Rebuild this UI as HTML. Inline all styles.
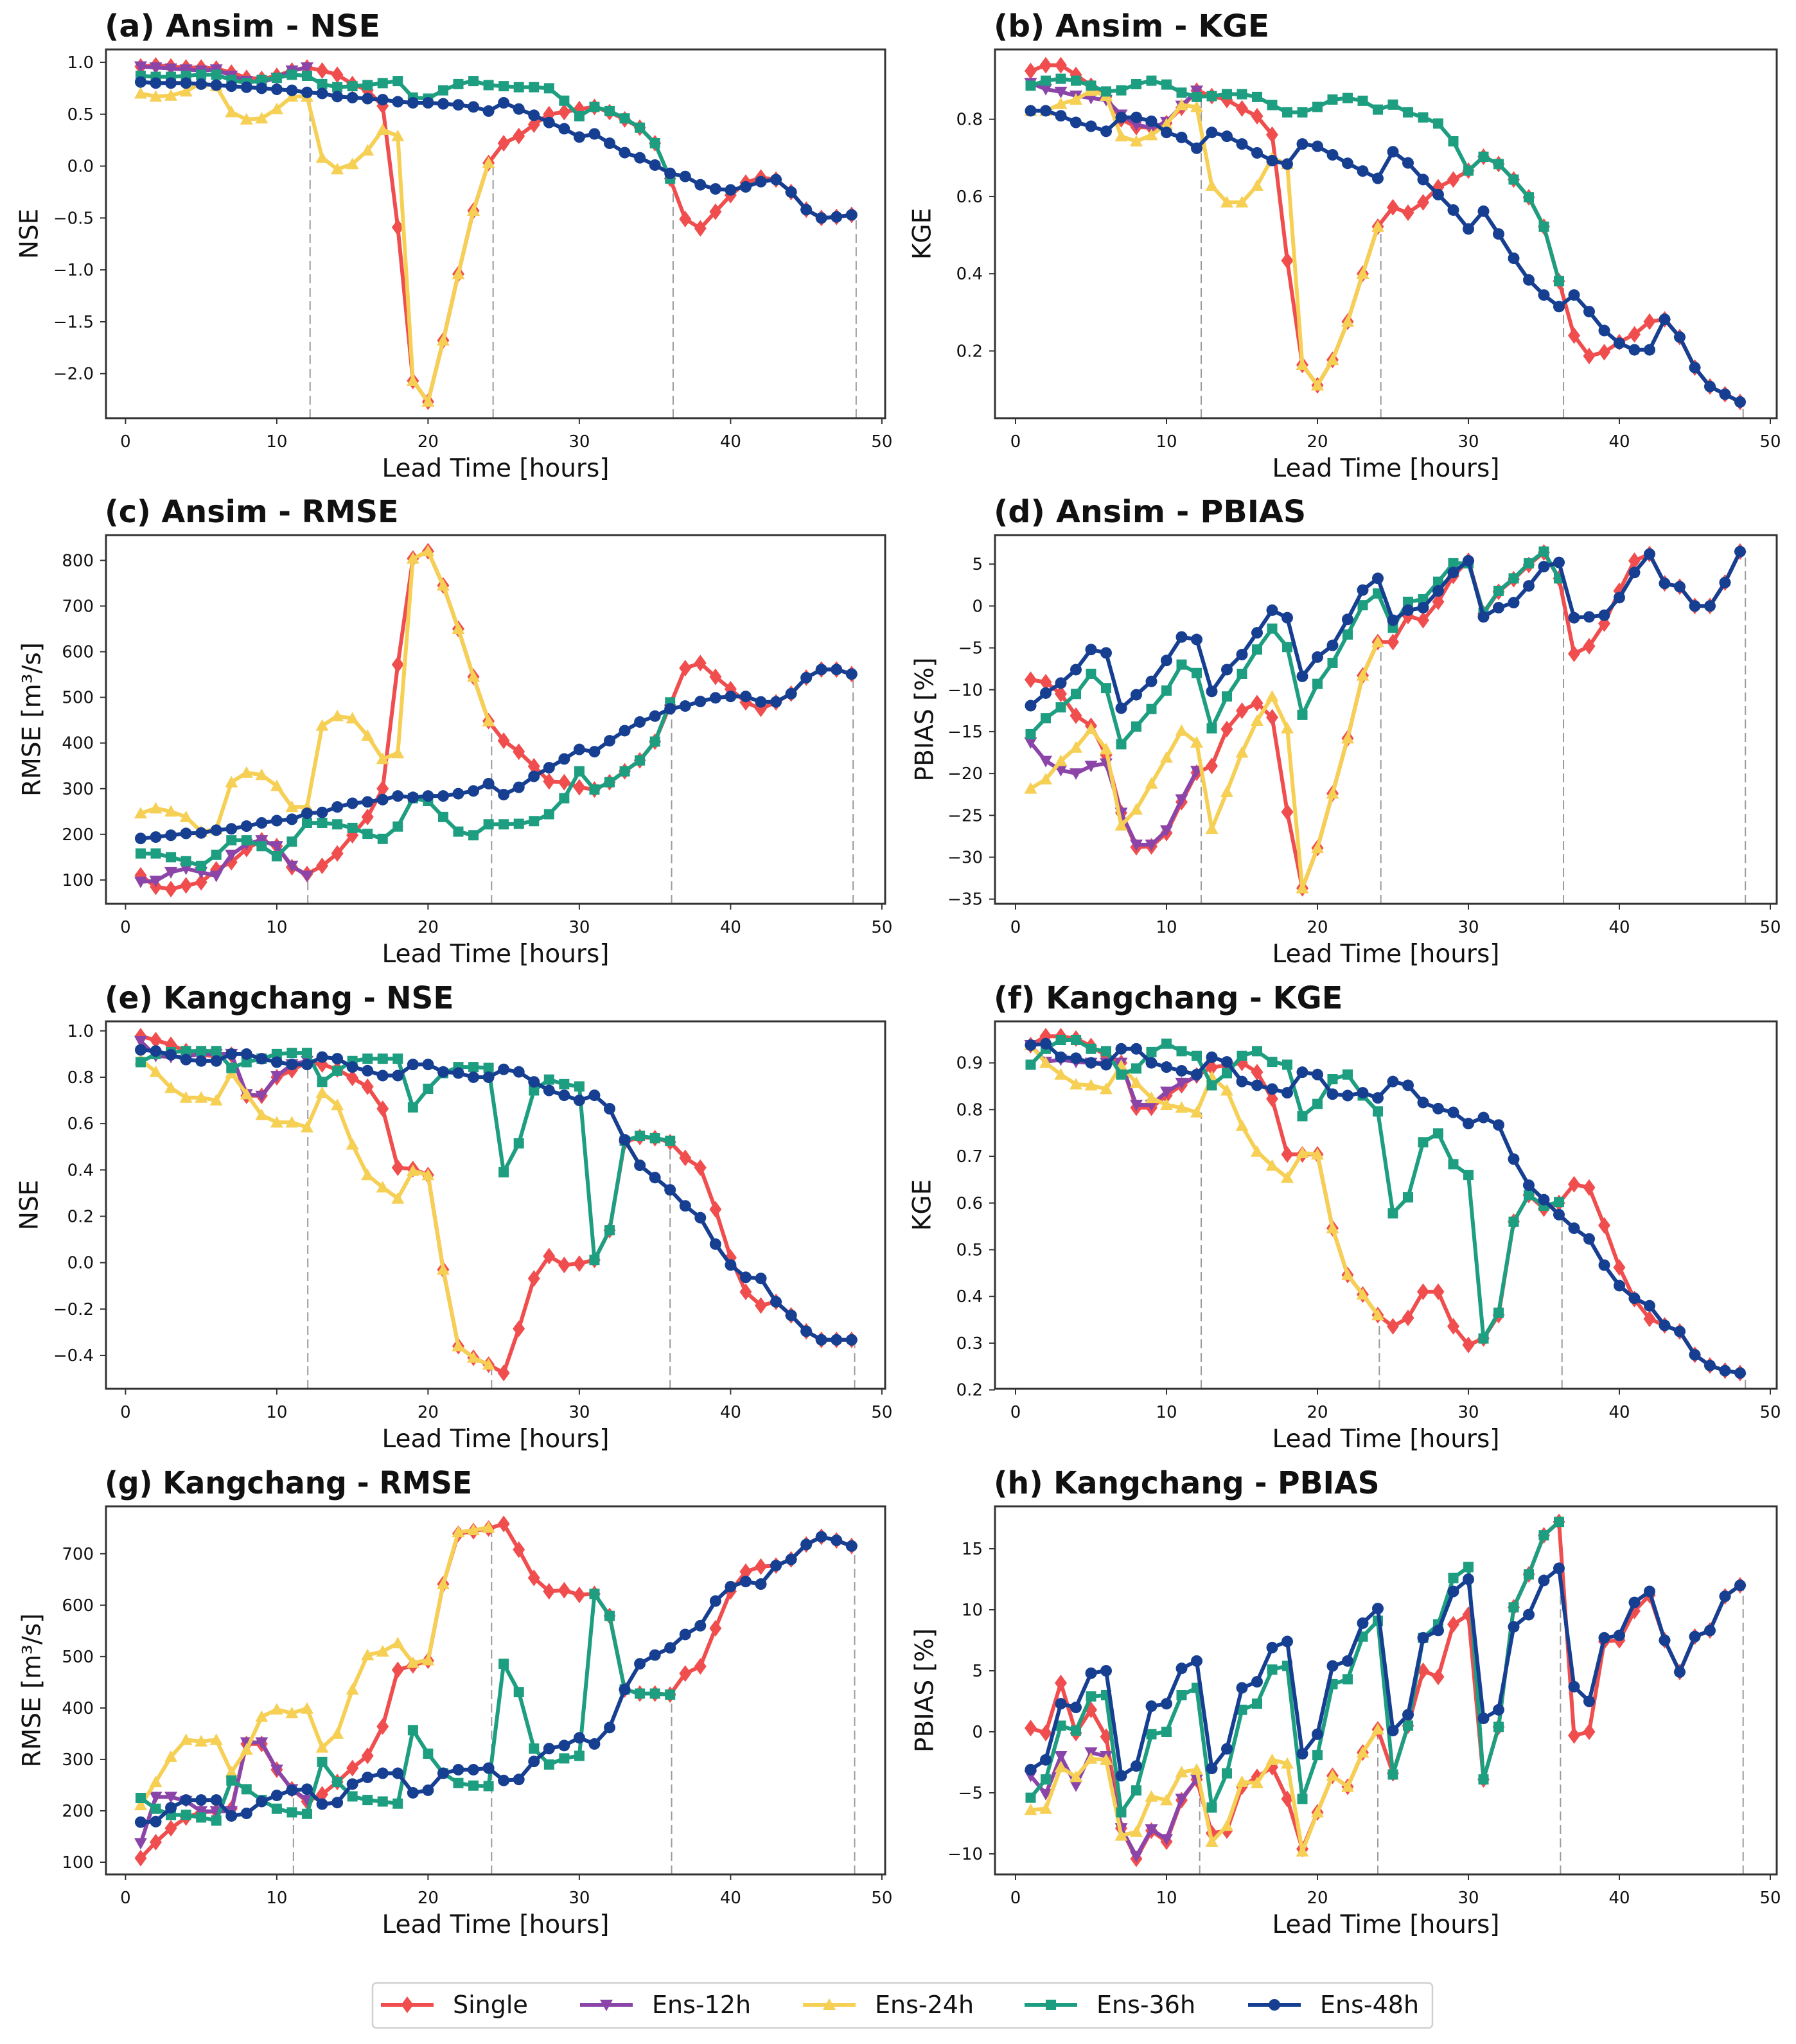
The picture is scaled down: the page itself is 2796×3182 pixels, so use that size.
<!DOCTYPE html>
<html><head><meta charset="utf-8"><style>
html,body{margin:0;padding:0;background:#fff;}
svg{display:block;}
text{font-family:"DejaVu Sans","Liberation Sans",sans-serif;fill:#111;}
</style></head><body>
<svg id="fig" xmlns="http://www.w3.org/2000/svg" width="2796" height="3182" viewBox="0 0 2796 3182">
<rect x="0" y="0" width="2796" height="3182" fill="#fff"/>
</svg>
<script>
const hours = [1,2,3,4,5,6,7,8,9,10,11,12,13,14,15,16,17,18,19,20,21,22,23,24,25,26,27,28,29,30,31,32,33,34,35,36,37,38,39,40,41,42,43,44,45,46,47,48];
const xTicks = [0,10,20,30,40,50];
const xTickLabels = ["0","10","20","30","40","50"];

const a_single = [0.96,0.97,0.96,0.95,0.95,0.94,0.90,0.85,0.84,0.87,0.92,0.95,0.92,0.88,0.79,0.73,0.58,-0.59,-2.07,-2.27,-1.68,-1.04,-0.43,0.03,0.22,0.29,0.40,0.50,0.52,0.55,0.57,0.52,0.45,0.37,0.22,-0.12,-0.51,-0.60,-0.44,-0.28,-0.16,-0.11,-0.13,-0.25,-0.42,-0.50,-0.49,-0.47];
const a_e12 = [0.96,0.95,0.94,0.93,0.92,0.93,0.87,0.82,0.81,0.85,0.92,0.95];
const a_e24 = [0.70,0.67,0.68,0.72,0.80,0.77,0.52,0.45,0.46,0.55,0.67,0.67,0.08,-0.03,0.02,0.15,0.35,0.29,-2.07,-2.27,-1.68,-1.04,-0.43,0.03];
const a_e36 = [0.87,0.86,0.86,0.87,0.88,0.88,0.83,0.80,0.83,0.85,0.88,0.87,0.79,0.76,0.77,0.78,0.80,0.82,0.66,0.65,0.73,0.79,0.82,0.78,0.77,0.76,0.76,0.75,0.63,0.48,0.57,0.53,0.46,0.37,0.22,-0.12];
const a_e48 = [0.81,0.80,0.80,0.80,0.79,0.78,0.77,0.76,0.75,0.74,0.73,0.71,0.70,0.67,0.66,0.65,0.64,0.62,0.61,0.61,0.60,0.59,0.57,0.53,0.61,0.55,0.49,0.42,0.36,0.28,0.31,0.22,0.13,0.08,0.01,-0.07,-0.10,-0.18,-0.22,-0.23,-0.20,-0.15,-0.13,-0.25,-0.42,-0.50,-0.49,-0.47];
const a_dashX = [12.2,24.3,36.2,48.3];
const a_dashTop = [0.7,0.05,-0.12,-0.47];
const a_ticks = [1.0,0.5,0.0,-0.5,-1.0,-1.5,-2.0];
const a_tickLabels = ["1.0","0.5","0.0","\u22120.5","\u22121.0","\u22121.5","\u22122.0"];

const b_single = [0.925,0.94,0.94,0.915,0.887,0.858,0.80,0.78,0.778,0.79,0.83,0.874,0.86,0.85,0.828,0.808,0.76,0.434,0.164,0.111,0.177,0.276,0.40,0.522,0.572,0.558,0.585,0.624,0.644,0.667,0.703,0.684,0.644,0.598,0.522,0.381,0.24,0.187,0.197,0.223,0.243,0.276,0.282,0.236,0.157,0.108,0.088,0.068];
const b_e12 = [0.894,0.878,0.871,0.861,0.855,0.85,0.812,0.786,0.778,0.793,0.835,0.874];
const b_e24 = [0.822,0.822,0.84,0.851,0.874,0.861,0.756,0.743,0.759,0.787,0.837,0.832,0.628,0.585,0.585,0.628,0.70,0.684,0.164,0.111,0.177,0.276,0.40,0.522];
const b_e36 = [0.887,0.90,0.905,0.90,0.887,0.872,0.875,0.891,0.90,0.89,0.869,0.858,0.86,0.865,0.865,0.858,0.837,0.818,0.818,0.832,0.851,0.855,0.848,0.825,0.838,0.818,0.805,0.789,0.743,0.667,0.703,0.684,0.644,0.598,0.522,0.381];
const b_e48 = [0.822,0.822,0.809,0.792,0.782,0.769,0.805,0.805,0.795,0.766,0.753,0.725,0.766,0.756,0.736,0.713,0.693,0.684,0.736,0.73,0.708,0.686,0.666,0.647,0.716,0.687,0.644,0.605,0.565,0.516,0.562,0.503,0.44,0.384,0.345,0.315,0.345,0.302,0.253,0.22,0.203,0.203,0.282,0.236,0.157,0.108,0.088,0.068];
const b_dashX = [12.3,24.2,36.3,48.2];
const b_dashTop = [0.86,0.52,0.38,0.07];
const b_ticks = [0.2,0.4,0.6,0.8];
const b_tickLabels = ["0.2","0.4","0.6","0.8"];

const c_single = [110,85,80,88,95,123,139,168,187,174,128,113,131,158,198,238,300,572,804,820,745,650,545,448,405,381,349,316,314,303,298,314,338,362,403,483,564,575,545,518,489,475,489,508,543,561,561,551];
const c_e12 = [96,98,117,125,117,109,155,179,187,174,131,109];
const c_e24 = [246,257,250,238,206,211,314,335,330,306,260,260,438,459,454,416,365,378,804,820,745,650,545,448];
const c_e36 = [158,158,150,141,131,155,187,187,174,152,184,225,225,222,214,201,190,217,279,273,238,206,198,222,222,223,229,244,279,338,298,314,338,362,403,489];
const c_e48 = [191,194,198,202,203,209,212,218,225,230,233,246,248,260,268,271,276,284,281,284,284,289,295,311,287,303,327,346,365,386,381,405,427,446,459,475,481,491,499,502,502,490,490,508,543,561,561,551];
const c_dashX = [12.05,24.2,36.1,48.1];
const c_dashTop = [110,448,489,551];
const c_ticks = [100,200,300,400,500,600,700,800];
const c_tickLabels = ["100","200","300","400","500","600","700","800"];

const d_single = [-8.8,-9.1,-10.5,-13.1,-14.3,-17.8,-24.7,-28.8,-28.7,-27.1,-23.4,-19.9,-19.1,-14.7,-12.5,-11.6,-13.3,-24.6,-33.7,-28.9,-22.4,-15.8,-8.3,-4.3,-4.3,-1.2,-1.7,0.5,3.6,5.4,-0.9,1.7,3.2,4.9,6.4,3.3,-5.7,-4.8,-2.1,1.8,5.4,6.2,2.7,2.3,0,0,2.8,6.5];
const d_e12 = [-16.3,-18.5,-19.6,-20.0,-19.1,-18.8,-24.7,-28.5,-28.5,-26.8,-23.1,-19.7];
const d_e24 = [-21.8,-20.7,-18.5,-16.9,-14.7,-17.1,-26.2,-24.3,-21.2,-18.1,-14.9,-16.3,-26.6,-22.2,-17.5,-13.7,-10.8,-14.6,-33.7,-28.9,-22.4,-15.8,-8.3,-4.3];
const d_e36 = [-15.3,-13.4,-12.1,-10.5,-8.1,-9.8,-16.5,-14.4,-12.3,-10.1,-7.0,-8.0,-14.6,-10.8,-8.1,-5.2,-2.7,-4.9,-13.0,-9.3,-6.8,-3.4,0.1,1.5,-2.6,0.5,0.8,2.9,5.1,5.1,-0.8,1.8,3.3,5.1,6.5,3.3];
const d_e48 = [-11.9,-10.4,-9.2,-7.6,-5.2,-5.6,-12.2,-10.6,-9.0,-6.5,-3.7,-4.0,-10.2,-7.6,-5.8,-3.2,-0.5,-1.4,-8.4,-6.1,-4.7,-1.6,1.9,3.3,-1.7,-0.5,-0.2,1.8,4.0,5.4,-1.3,-0.2,0.4,2.4,4.7,5.2,-1.4,-1.3,-1.1,1.0,4.0,6.2,2.7,2.3,0,0,2.8,6.5];
const d_dashX = [12.3,24.2,36.3,48.35];
const d_dashTop = [-19.8,-4.3,3.3,6.5];
const d_ticks = [5,0,-5,-10,-15,-20,-25,-30,-35];
const d_tickLabels = ["5","0","\u22125","\u221210","\u221215","\u221220","\u221225","\u221230","\u221235"];

const e_single = [0.977,0.96,0.94,0.913,0.897,0.89,0.897,0.72,0.72,0.80,0.83,0.865,0.855,0.834,0.797,0.759,0.664,0.41,0.404,0.378,-0.03,-0.36,-0.41,-0.44,-0.476,-0.285,-0.068,0.028,-0.01,-0.004,0.012,0.14,0.52,0.542,0.537,0.52,0.452,0.41,0.23,0.022,-0.126,-0.185,-0.169,-0.227,-0.296,-0.333,-0.333,-0.333];
const e_e12 = [0.955,0.892,0.887,0.89,0.90,0.90,0.90,0.727,0.72,0.805,0.855,0.87];
const e_e24 = [0.876,0.823,0.754,0.712,0.712,0.70,0.818,0.727,0.637,0.605,0.605,0.584,0.733,0.68,0.51,0.378,0.325,0.277,0.396,0.378,-0.03,-0.36,-0.41,-0.44];
const e_e36 = [0.865,0.90,0.908,0.913,0.913,0.913,0.84,0.865,0.88,0.90,0.905,0.905,0.78,0.828,0.87,0.88,0.88,0.88,0.67,0.75,0.818,0.844,0.844,0.84,0.39,0.515,0.743,0.79,0.77,0.76,0.012,0.14,0.526,0.547,0.537,0.526];
const e_e48 = [0.918,0.913,0.897,0.876,0.87,0.87,0.90,0.90,0.88,0.865,0.855,0.855,0.887,0.88,0.844,0.828,0.807,0.807,0.855,0.855,0.823,0.818,0.80,0.80,0.834,0.823,0.78,0.743,0.722,0.70,0.722,0.664,0.53,0.42,0.367,0.314,0.245,0.194,0.08,-0.01,-0.063,-0.068,-0.169,-0.227,-0.296,-0.333,-0.333,-0.333];
const e_dashX = [12.05,24.2,36.0,48.2];
const e_dashTop = [0.865,-0.44,0.52,-0.333];
const e_ticks = [1.0,0.8,0.6,0.4,0.2,0.0,-0.2,-0.4];
const e_tickLabels = ["1.0","0.8","0.6","0.4","0.2","0.0","\u22120.2","\u22120.4"];

const f_single = [0.938,0.957,0.957,0.952,0.936,0.915,0.90,0.804,0.804,0.83,0.852,0.873,0.89,0.895,0.90,0.88,0.823,0.704,0.704,0.704,0.546,0.446,0.404,0.36,0.336,0.354,0.41,0.41,0.336,0.296,0.31,0.36,0.56,0.617,0.588,0.60,0.64,0.633,0.552,0.462,0.394,0.352,0.338,0.325,0.275,0.252,0.241,0.236];
const f_e12 = [0.938,0.902,0.907,0.902,0.90,0.90,0.90,0.81,0.81,0.838,0.857,0.87];
const f_e24 = [0.938,0.90,0.875,0.854,0.852,0.844,0.894,0.857,0.825,0.81,0.804,0.794,0.87,0.841,0.765,0.71,0.68,0.654,0.707,0.704,0.546,0.446,0.404,0.36];
const f_e36 = [0.896,0.93,0.949,0.949,0.93,0.925,0.875,0.888,0.923,0.941,0.925,0.915,0.852,0.878,0.915,0.925,0.902,0.896,0.786,0.812,0.865,0.875,0.83,0.796,0.578,0.612,0.73,0.749,0.683,0.66,0.31,0.365,0.56,0.617,0.594,0.602];
const f_e48 = [0.938,0.941,0.912,0.91,0.90,0.896,0.93,0.93,0.90,0.891,0.883,0.875,0.912,0.902,0.86,0.852,0.844,0.836,0.88,0.875,0.833,0.83,0.836,0.825,0.86,0.852,0.815,0.802,0.794,0.77,0.783,0.767,0.694,0.638,0.607,0.575,0.546,0.523,0.467,0.423,0.396,0.38,0.338,0.325,0.275,0.252,0.241,0.236];
const f_dashX = [12.3,24.1,36.2,48.35];
const f_dashTop = [0.794,0.36,0.58,0.236];
const f_ticks = [0.9,0.8,0.7,0.6,0.5,0.4,0.3,0.2];
const f_tickLabels = ["0.9","0.8","0.7","0.6","0.5","0.4","0.3","0.2"];

const g_single = [108,139,166,187,197,199,204,330,330,280,242,218,232,256,283,307,364,474,483,492,641,739,744,749,758,708,653,627,629,620,622,579,436,428,428,426,467,481,555,627,665,675,677,689,718,733,726,715];
const g_e12 = [137,227,227,219,199,199,199,333,333,280,242,221];
const g_e24 = [211,256,305,338,335,338,275,319,383,397,390,399,323,350,436,503,510,526,488,493,641,742,746,751];
const g_e36 = [225,204,192,192,187,181,259,242,221,204,197,194,295,256,228,221,218,214,357,311,273,254,249,248,486,431,321,290,302,307,622,579,436,428,428,426];
const g_e48 = [178,179,206,221,221,221,190,195,218,230,240,242,213,216,252,265,273,273,235,240,273,280,280,283,259,261,296,321,327,342,330,362,436,486,503,517,543,560,608,636,646,641,677,689,718,733,726,715];
const g_dashX = [11.1,24.2,36.1,48.2];
const g_dashTop = [242,750,426,715];
const g_ticks = [100,200,300,400,500,600,700];
const g_tickLabels = ["100","200","300","400","500","600","700"];

const h_single = [0.3,-0.1,4.0,-0.1,1.8,-0.4,-7.9,-10.4,-8.1,-9.0,-5.6,-3.9,-8.3,-8.1,-4.5,-3.7,-2.9,-5.5,-9.6,-6.6,-3.6,-4.5,-1.7,0.2,-3.4,0.5,5.0,4.5,8.8,9.6,-3.9,0.4,10.2,12.9,16.1,17.2,-0.3,0,7.4,7.5,9.9,11.2,7.5,4.9,7.8,8.3,11.1,12.0];
const h_e12 = [-3.6,-5.1,-2.0,-4.4,-1.7,-2.0,-7.9,-10.2,-8.0,-8.8,-5.5,-3.9];
const h_e24 = [-6.4,-6.3,-2.9,-3.7,-2.2,-2.3,-8.5,-8.2,-5.3,-5.6,-3.3,-3.1,-9.0,-7.7,-4.1,-4.2,-2.3,-2.6,-9.8,-6.6,-3.6,-4.5,-1.7,0.2];
const h_e36 = [-5.4,-3.9,0.5,0.1,2.9,3.0,-6.6,-4.8,-0.2,0,3.0,3.6,-6.2,-3.4,1.8,2.3,5.1,5.4,-5.5,-1.9,3.9,4.3,7.8,9.1,-3.5,0.5,7.7,8.8,12.6,13.5,-3.9,0.4,10.2,12.9,16.1,17.2];
const h_e48 = [-3.1,-2.3,2.3,2.0,4.8,5.0,-3.6,-2.8,2.1,2.3,5.2,5.8,-3.0,-1.4,3.6,4.1,6.9,7.4,-1.8,-0.2,5.4,5.8,8.9,10.1,0.1,1.4,7.7,8.3,11.5,12.5,1.1,1.8,8.6,9.6,12.4,13.4,3.7,2.5,7.7,7.9,10.6,11.5,7.5,4.9,7.8,8.3,11.1,12.0];
const h_dashX = [12.2,24.0,36.1,48.2];
const h_dashTop = [-3.9,0.2,13.4,12.0];
const h_ticks = [15,10,5,0,-5,-10];
const h_tickLabels = ["15","10","5","0","\u22125","\u221210"];

const seriesNames = ["Single","Ens-12h","Ens-24h","Ens-36h","Ens-48h"];
const seriesKeys = ["single","ens-12h","ens-24h","ens-36h","ens-48h"];
const colors = ["#F04E4E","#8B45A8","#F6CF55","#1E9E80","#173F91"];
const markers = ["d","v","^","s","o"];

const NS = "http://www.w3.org/2000/svg";
const svg = document.getElementById("fig");
function el(tag, attrs, parent){
  const e = document.createElementNS(NS, tag);
  for (const k in attrs) e.setAttribute(k, attrs[k]);
  (parent || svg).appendChild(e);
  return e;
}
const COLS = {L:{x0:165,x1:1378,xa:195.4,xs:23.55,ylab:50}, R:{x0:1549,x1:2766,xa:1581,xs:23.5,ylab:1440}};
const ROWS = [[77,651],[833,1407],[1590,2162],[2345,2918]];

const panels = [
 {id:"a",col:"L",row:0,title:"(a) Ansim - NSE",ylabel:"NSE",cal:[1.0,97,-2.0,581.7],s:[a_single,a_e12,a_e24,a_e36,a_e48],dx:a_dashX,dt:a_dashTop,t:a_ticks,tl:a_tickLabels},
 {id:"b",col:"R",row:0,title:"(b) Ansim - KGE",ylabel:"KGE",cal:[0.8,185.7,0.2,546.4],s:[b_single,b_e12,b_e24,b_e36,b_e48],dx:b_dashX,dt:b_dashTop,t:b_ticks,tl:b_tickLabels},
 {id:"c",col:"L",row:1,title:"(c) Ansim - RMSE",ylabel:"RMSE [m\u00b3/s]",cal:[800,872.4,100,1369.9],s:[c_single,c_e12,c_e24,c_e36,c_e48],dx:c_dashX,dt:c_dashTop,t:c_ticks,tl:c_tickLabels},
 {id:"d",col:"R",row:1,title:"(d) Ansim - PBIAS",ylabel:"PBIAS [%]",cal:[5,878.2,-35,1399.7],s:[d_single,d_e12,d_e24,d_e36,d_e48],dx:d_dashX,dt:d_dashTop,t:d_ticks,tl:d_tickLabels},
 {id:"e",col:"L",row:2,title:"(e) Kangchang - NSE",ylabel:"NSE",cal:[1.0,1604.8,-0.4,2110],s:[e_single,e_e12,e_e24,e_e36,e_e48],dx:e_dashX,dt:e_dashTop,t:e_ticks,tl:e_tickLabels},
 {id:"f",col:"R",row:2,title:"(f) Kangchang - KGE",ylabel:"KGE",cal:[0.9,1654.6,0.3,2090.9],s:[f_single,f_e12,f_e24,f_e36,f_e48],dx:f_dashX,dt:f_dashTop,t:f_ticks,tl:f_tickLabels},
 {id:"g",col:"L",row:3,title:"(g) Kangchang - RMSE",ylabel:"RMSE [m\u00b3/s]",cal:[700,2418.8,100,2899],s:[g_single,g_e12,g_e24,g_e36,g_e48],dx:g_dashX,dt:g_dashTop,t:g_ticks,tl:g_tickLabels},
 {id:"h",col:"R",row:3,title:"(h) Kangchang - PBIAS",ylabel:"PBIAS [%]",cal:[15,2411,-10,2886],s:[h_single,h_e12,h_e24,h_e36,h_e48],dx:h_dashX,dt:h_dashTop,t:h_ticks,tl:h_tickLabels}
];

function markerPath(m, x, y){
  if (m==="d") return `M${x},${y-13}L${x+9.5},${y}L${x},${y+13}L${x-9.5},${y}Z`;
  if (m==="v") return `M${x-10},${y-8}L${x+10},${y-8}L${x},${y+10}Z`;
  if (m==="^") return `M${x-10},${y+8}L${x+10},${y+8}L${x},${y-10}Z`;
  if (m==="s") return `M${x-8},${y-8}h16v16h-16Z`;
  return `M${x-9},${y}a9,9 0 1,0 18,0a9,9 0 1,0 -18,0Z`;
}

panels.forEach(p => {
  const C = COLS[p.col], R = ROWS[p.row];
  const xS = h => C.xa + C.xs * h;
  const yS = v => p.cal[1] + (v - p.cal[0]) * (p.cal[3] - p.cal[1]) / (p.cal[2] - p.cal[0]);
  const g = el("g", {});
  
  

  const title = el("text", {x:C.x0-2, y:R[0]-20, "font-size":48, "font-weight":"bold", textLength: p.title.length*28.6, lengthAdjust:"spacingAndGlyphs"}, g);
  title.textContent = p.title;
  
  

  p.dx.forEach((dx, i) => {
    const ln = el("line", {x1:xS(dx), x2:xS(dx), y1:R[1], y2:yS(p.dt[i]), stroke:"#9a9a9a", "stroke-width":2, "stroke-dasharray":"14,7"}, g);
    
    
  });

  p.s.forEach((arr, si) => {
    const sg = el("g", {}, g);
    
    
    const pts = arr.map((v, i) => xS(hours[i]).toFixed(1) + "," + yS(v).toFixed(1)).join(" ");
    const pl = el("polyline", {points:pts, fill:"none", stroke:colors[si], "stroke-width":6, "stroke-linejoin":"round"}, sg);
    
    
    arr.forEach((v, i) => {
      const mk = el("path", {d:markerPath(markers[si], xS(hours[i]), yS(v)), fill:colors[si]}, sg);
      
      
    });
  });

  const fr = el("rect", {x:C.x0, y:R[0], width:C.x1-C.x0, height:R[1]-R[0], fill:"none", stroke:"#333", "stroke-width":3}, g);
  
  

  xTicks.forEach((t, i) => {
    const tk = el("line", {x1:xS(t), x2:xS(t), y1:R[1], y2:R[1]+9, stroke:"#333", "stroke-width":2}, g);
    
    
    const tx = el("text", {x:xS(t), y:R[1]+45, "font-size":26, "text-anchor":"middle"}, g);
    tx.textContent = xTickLabels[i];
    
    
  });
  const xl = el("text", {x:(C.x0+C.x1)/2, y:R[1]+91, "font-size":39, "text-anchor":"middle"}, g);
  xl.textContent = "Lead Time [hours]";
  
  

  p.t.forEach((t, i) => {
    const tk = el("line", {x1:C.x0-9, x2:C.x0, y1:yS(t), y2:yS(t), stroke:"#333", "stroke-width":2}, g);
    
    
    const tx = el("text", {x:C.x0-19, y:yS(t)+9, "font-size":26, "text-anchor":"end"}, g);
    tx.textContent = p.tl[i];
    
    
  });
  const ylx = C.ylab + (p.ylabel.length > 5 ? 0 : -4);
  const yc = (R[0]+R[1])/2;
  const yl = el("text", {x:ylx, y:yc, "font-size":39, "text-anchor":"middle", "dominant-baseline":"central", transform:`rotate(-90 ${ylx} ${yc})`}, g);
  yl.textContent = p.ylabel;
  
  
});

const lg = el("g", {});


const lbox = el("rect", {x:580, y:3087, width:1650, height:70, rx:6, fill:"#fff", stroke:"#d0d0d0", "stroke-width":2.5}, lg);


const legLineX = [593, 903, 1250, 1595, 1943];
seriesNames.forEach((nm, i) => {
  const eg = el("g", {}, lg);
  
  
  const x0 = legLineX[i];
  const ln = el("line", {x1:x0, x2:x0+82, y1:3121, y2:3121, stroke:colors[i], "stroke-width":6}, eg);
  
  
  const mk = el("path", {d:markerPath(markers[i], x0+41, 3121), fill:colors[i]}, eg);
  
  
  const tx = el("text", {x:x0+112, y:3134, "font-size":38}, eg);
  tx.textContent = nm;
  
  
});
</script>
</body></html>
